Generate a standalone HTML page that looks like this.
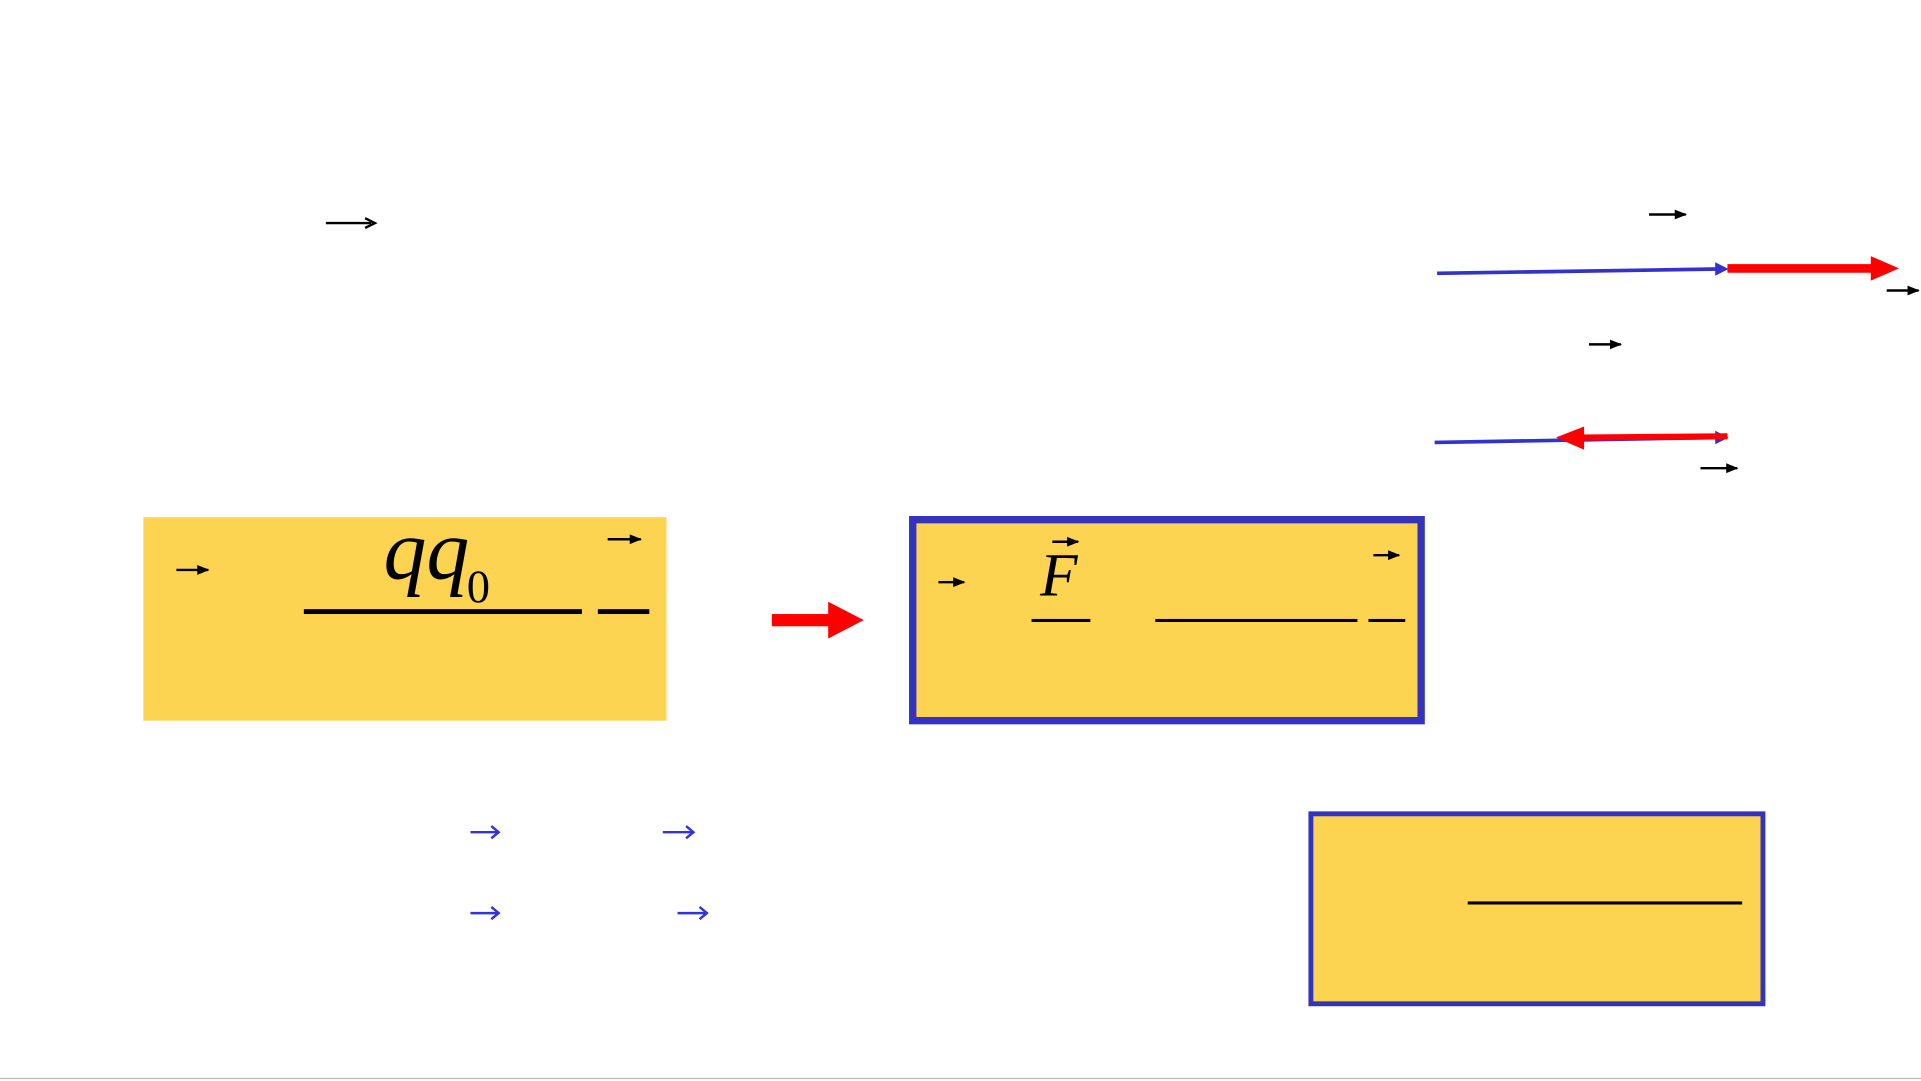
<!DOCTYPE html>
<html><head><meta charset="utf-8"><style>
html,body{margin:0;padding:0;background:#fff;width:1921px;height:1081px;overflow:hidden}
svg{display:block}
</style></head><body>
<svg width="1921" height="1081" viewBox="0 0 1568 882" preserveAspectRatio="none" xmlns="http://www.w3.org/2000/svg">
<defs>
<marker id="ab" viewBox="0 0 10 10" refX="9" refY="5" markerWidth="5" markerHeight="5" orient="auto"><path d="M0,1 L10,5 L0,9 z" fill="#000"/></marker>
</defs>
<g stroke="#000" stroke-width="2" fill="none">
<line x1="266" y1="182" x2="303" y2="182"/><path d="M298,178 L306,182 L298,186"/>
</g>
<!-- top right vectors -->
<line x1="1173" y1="223" x2="1402" y2="219.5" stroke="#3333cc" stroke-width="3"/>
<path d="M1400,214 L1411,219.5 L1400,225 z" fill="#3333cc"/>
<line x1="1410" y1="219" x2="1530" y2="219" stroke="#f00" stroke-width="7"/>
<path d="M1527,209 L1550,219 L1527,229 z" fill="#f00"/>
<line x1="1171" y1="361" x2="1402" y2="357" stroke="#3333cc" stroke-width="3"/>
<path d="M1400,351.5 L1411,357 L1400,362.5 z" fill="#3333cc"/>
<line x1="1410" y1="356" x2="1290" y2="357" stroke="#f00" stroke-width="5"/>
<path d="M1293,348 L1270,357 L1293,367 z" fill="#f00"/>
<!-- box 1 -->
<rect x="117" y="422" width="427" height="166" fill="#fdd452"/>
<text x="313" y="472" font-family="'Liberation Serif', serif" font-style="italic" font-size="70" fill="#000">qq</text>
<text x="381" y="491" font-family="'Liberation Serif', serif" font-size="38" fill="#000">0</text>
<rect x="248" y="497" width="227" height="4" fill="#000"/>
<rect x="488" y="497" width="42" height="4" fill="#000"/>
<!-- red arrow -->
<rect x="630" y="501" width="50" height="10" fill="#f00"/>
<path d="M676,491 L705,506 L676,521 z" fill="#f00"/>
<!-- box 2 -->
<rect x="745" y="424" width="415" height="164" fill="#fdd452" stroke="#3333bb" stroke-width="6"/>
<text x="849" y="486" font-family="'Liberation Serif', serif" font-style="italic" font-size="50" fill="#000">F</text>
<rect x="842" y="505" width="48" height="2.5" fill="#000"/>
<rect x="943" y="505" width="165" height="2.5" fill="#000"/>
<rect x="1117" y="505" width="30" height="2.5" fill="#000"/>
<g stroke="#000" stroke-width="2">
<line x1="1346" y1="175" x2="1376" y2="175" marker-end="url(#ab)"/>
<line x1="1540" y1="237" x2="1566" y2="237" marker-end="url(#ab)"/>
<line x1="1297" y1="281" x2="1323" y2="281" marker-end="url(#ab)"/>
<line x1="1388" y1="382" x2="1418" y2="382" marker-end="url(#ab)"/>
<line x1="144" y1="465" x2="170" y2="465" marker-end="url(#ab)"/>
<line x1="496" y1="440" x2="523" y2="440" marker-end="url(#ab)"/>
<line x1="766" y1="475" x2="787" y2="475" marker-end="url(#ab)"/>
<line x1="1121" y1="453" x2="1142" y2="453" marker-end="url(#ab)"/>
<line x1="859" y1="442" x2="880" y2="442" marker-end="url(#ab)"/>
</g>
<!-- blue arrows -->
<g stroke="#3333dd" stroke-width="2" fill="none">
<line x1="384" y1="679" x2="407" y2="679"/><path d="M401,674 L407,679 L401,684"/>
<line x1="541" y1="679" x2="566" y2="679"/><path d="M560,674 L566,679 L560,684"/>
<line x1="384" y1="745" x2="407" y2="745"/><path d="M401,740 L407,745 L401,750"/>
<line x1="553" y1="745" x2="577" y2="745"/><path d="M571,740 L577,745 L571,750"/>
</g>
<!-- box 3 -->
<rect x="1070" y="664" width="369" height="155" fill="#fdd452" stroke="#3333bb" stroke-width="4"/>
<rect x="1198" y="735.5" width="224" height="2.5" fill="#000"/>
<line x1="0" y1="880" x2="1568" y2="880" stroke="#bbb" stroke-width="1"/>
</svg>
</body></html>
